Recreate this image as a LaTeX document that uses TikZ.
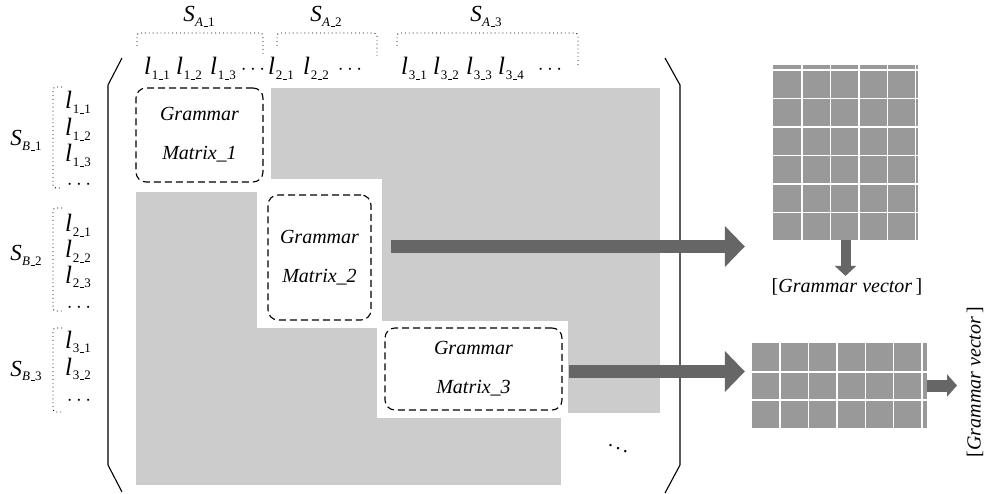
\documentclass[tikz,border=0pt]{standalone}
\usepackage{fontspec}
\setmainfont{Liberation Serif}
\usetikzlibrary{arrows.meta}
\definecolor{bggray}{HTML}{CCCCCC}
\definecolor{arrgray}{HTML}{666666}
\definecolor{matgray}{HTML}{999999}
\newcommand\usc{\kern0.6pt\rule[-0.6pt]{4pt}{1.1pt}\kern0.6pt}
\newcommand\sbx[1]{\raisebox{-4.5pt}{\fontsize{13}{13}\selectfont #1}}
\newcommand\lab[2]{{\fontsize{25}{26}\selectfont\textit{l}}\kern0.8pt\sbx{#1\usc#2}}
\newcommand\slab[2]{{\fontsize{23}{24}\selectfont\textit{S}}\kern0.3pt\sbx{\textit{#1}\usc#2}}
\begin{document}
\begin{tikzpicture}[x=1pt,y=-1pt,
  txt/.style={font=\fontsize{20}{24}\selectfont, inner sep=0pt},
  gbox/.style={draw, dash pattern=on 7pt off 4pt, rounded corners=10pt, line width=1.1pt,
    align=center, font=\fontsize{20}{39}\selectfont\itshape, inner sep=0pt},
  dotbr/.style={line width=0.9pt, dash pattern=on 0.9pt off 3pt, rounded corners=3pt},
  paren/.style={line width=1.1pt},
  matbox/.style={fill=matgray, draw=none, inner sep=0pt},
  gridw/.style={white, line width=1.4pt},
  bigarr/.style={arrgray, line width=13pt, -{Triangle[length=20pt,width=40pt]}},
]
\useasboundingbox (0,0) rectangle (987,494);

% gray background with white cut-outs
\fill[bggray] (136,88) rectangle (660,485);
\fill[white] (130,84) rectangle (271,192);
\fill[white] (257,179) rectangle (382,328);
\fill[white] (377,321) rectangle (568,418);
\fill[white] (561,413) rectangle (662,488);

% matrix parentheses
\draw[paren] (122,58) -- (108,85) -- (108,465) -- (122,492);
\draw[paren] (665,58) -- (680,85) -- (680,465) -- (665,493);

% top labels
\node[txt, anchor=base] (sa1) at (199,22) {\slab{A}{1}};
\node[txt, anchor=base] (sa2) at (326,22) {\slab{A}{2}};
\node[txt, anchor=base] (sa3) at (486,22) {\slab{A}{3}};
\draw[dotbr] (137,46) -- (137,33) -- (263,33) -- (263,56);
\draw[dotbr] (277,46) -- (277,33) -- (377,33) -- (377,56);
\draw[dotbr] (397,46) -- (397,33) -- (578,33) -- (578,67);

\node[txt, anchor=base] (t11) at (157,75) {\lab{1}{1}};
\node[txt, anchor=base] (t12) at (189,75) {\lab{1}{2}};
\node[txt, anchor=base] (t13) at (223,75) {\lab{1}{3}};
\node[txt, anchor=base] (t1d) at (253,75) {$\cdots$};
\node[txt, anchor=base] (t21) at (281,75) {\lab{2}{1}};
\node[txt, anchor=base] (t22) at (316,75) {\lab{2}{2}};
\node[txt, anchor=base] (t2d) at (350,75) {$\cdots$};
\node[txt, anchor=base] (t31) at (414,75) {\lab{3}{1}};
\node[txt, anchor=base] (t32) at (446,75) {\lab{3}{2}};
\node[txt, anchor=base] (t33) at (479,75) {\lab{3}{3}};
\node[txt, anchor=base] (t34) at (511,75) {\lab{3}{4}};
\node[txt, anchor=base] (t3d) at (550,75) {$\cdots$};

% left labels
\node[txt, anchor=base] (sb1) at (26,146) {\slab{B}{1}};
\node[txt, anchor=base] (sb2) at (26,261) {\slab{B}{2}};
\node[txt, anchor=base] (sb3) at (26,376) {\slab{B}{3}};
\draw[dotbr] (62,87) -- (53,87) -- (53,188) -- (62,188);
\draw[dotbr] (62,208) -- (53,208) -- (53,311) -- (62,311);
\draw[dotbr] (62,328) -- (53,328) -- (53,412) -- (62,412);

\node[txt, anchor=base] (b11) at (78,109) {\lab{1}{1}};
\node[txt, anchor=base] (b12) at (78,136) {\lab{1}{2}};
\node[txt, anchor=base] (b13) at (78,162) {\lab{1}{3}};
\node[txt, anchor=base] (b1d) at (79,190) {$\cdots$};
\node[txt, anchor=base] (b21) at (78,232) {\lab{2}{1}};
\node[txt, anchor=base] (b22) at (78,258) {\lab{2}{2}};
\node[txt, anchor=base] (b23) at (78,283) {\lab{2}{3}};
\node[txt, anchor=base] (b2d) at (79,312) {$\cdots$};
\node[txt, anchor=base] (b31) at (78,348) {\lab{3}{1}};
\node[txt, anchor=base] (b32) at (78,375) {\lab{3}{2}};
\node[txt, anchor=base] (b3d) at (79,405) {$\cdots$};

% grammar matrix boxes
\node[gbox, minimum width=127pt, minimum height=94pt] (box1) at (199.5,135) {Grammar\\Matrix\_1};
\node[gbox, minimum width=103pt, minimum height=125pt] (box2) at (319.5,257.5) {Grammar\\Matrix\_2};
\node[gbox, minimum width=177pt, minimum height=82pt] (box3) at (473.5,369) {Grammar\\Matrix\_3};

\node[txt] (dd) at (618,445) {$\ddots$};

% result matrices
\node[matbox, minimum width=145pt, minimum height=175pt] (mat1) at (845.5,152.5) {};
\foreach \xx in {802,830.4,858.8,887.2,915.6} \draw[gridw] (\xx,65) -- (\xx,240);
\foreach \yy in {70,98.5,127,155.5,184,212.5} \draw[gridw] (773,\yy) -- (918,\yy);

\node[matbox, minimum width=175pt, minimum height=85pt] (mat2) at (839.5,385.5) {};
\foreach \xx in {780,808.4,836.8,865.2,893.6,922} \draw[gridw] (\xx,343) -- (\xx,428);
\foreach \yy in {372,400} \draw[gridw] (752,\yy) -- (927,\yy);

% big arrows
\coordinate (a1s) at (391,246.5);
\coordinate (a2s) at (569,371.5);
\draw[bigarr, shorten >=28pt] (a1s) -- (a1s -| mat1.west);
\draw[bigarr, shorten >=7pt] (a2s) -- (a2s -| mat2.west);

% grammar vectors
\node[txt, anchor=base] (vec1) at (847,292) {[\textit{Grammar vector}\,]};
\draw[arrgray, line width=10pt, -{Triangle[length=10pt,width=21pt]}, shorten >=2pt] (mat1.south) -- (mat1.south |- vec1.north);

\node[txt, rotate=90] (vec2) at (975,382) {[\textit{Grammar vector}\,]};
\draw[arrgray, line width=12pt, -{Triangle[length=10pt,width=22pt]}] (mat2.east) -- (mat2.east -| 957,0);
\end{tikzpicture}
\end{document}
